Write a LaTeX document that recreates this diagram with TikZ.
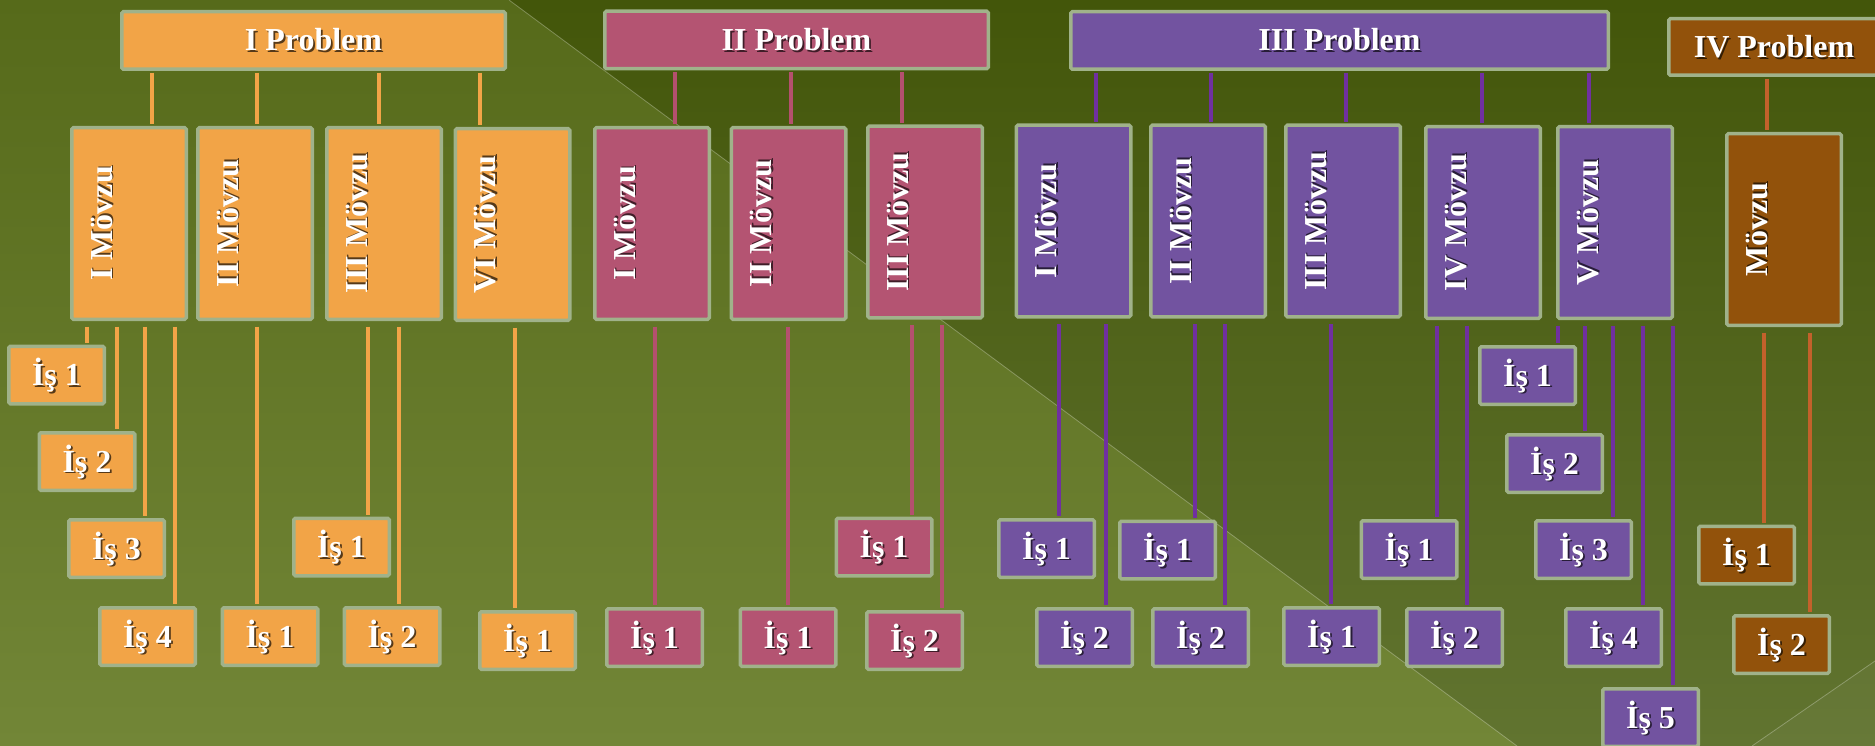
\documentclass[tikz,border=0pt]{standalone}
\usepackage{fontspec}
\setmainfont{Liberation Serif}
\definecolor{cOr}{HTML}{F2A447}
\definecolor{cPk}{HTML}{B45472}
\definecolor{cPu}{HTML}{7253A0}
\definecolor{cBr}{HTML}{92520B}
\definecolor{lOr}{HTML}{F2A447}
\definecolor{lPk}{HTML}{B4506E}
\definecolor{lPu}{HTML}{7030A0}
\definecolor{lBr}{HTML}{C3612B}
\definecolor{cBd}{HTML}{A0B28A}
\definecolor{bgLT}{HTML}{566A1A}
\definecolor{bgLB}{HTML}{728637}
\definecolor{bgRT}{HTML}{43560A}
\definecolor{bgRB}{HTML}{617430}
\colorlet{shc}{black}
\newcommand\shd[1]{\leavevmode\rlap{\kern1.8pt\raisebox{-1.8pt}{\textcolor{shc}{#1}}}#1}
\newcommand\cn[4]{\draw[#1] (perpendicular cs: horizontal line through={(#2.south)}, vertical line through={(#4,0)}) -- (perpendicular cs: horizontal line through={(#3.north)}, vertical line through={(#4,0)});}
\tikzset{
 bx/.style={draw=cBd, line width=3.5pt, rounded corners=1.5pt, inner sep=0pt, text=white,
   font=\fontsize{32}{37}\selectfont\bfseries, text height=21pt, text depth=0pt},
 fo/.style={bx, fill=cOr, execute at begin node={\colorlet{shc}{cOr!35!black}}},
 fp/.style={bx, fill=cPk, execute at begin node={\colorlet{shc}{cPk!35!black}}},
 fu/.style={bx, fill=cPu, execute at begin node={\colorlet{shc}{cPu!35!black}}},
 fb/.style={bx, fill=cBr, execute at begin node={\colorlet{shc}{cBr!35!black}}},
 isb/.style={minimum width=95.5pt, minimum height=57.5pt},
 mvb/.style={minimum width=114.5pt, minimum height=191.5pt},
 prb/.style={minimum height=57.5pt},
 vt/.style={rotate=90, anchor=base, inner sep=0pt, text=white,
   font=\fontsize{32}{37}\selectfont\bfseries, execute at begin node={\colorlet{shc}{#1!35!black}}},
 co/.style={draw=lOr, line width=3.5pt},
 cp/.style={draw=lPk, line width=3.5pt},
 cu/.style={draw=lPu, line width=3.5pt},
 cb/.style={draw=lBr, line width=3.5pt},
 tc/.style={shorten <=1.75pt, shorten >=1.75pt},
 bc/.style={shorten <=5.5pt, shorten >=1.75pt},
 dline/.style={draw=white, draw opacity=0.28, line width=0.8pt}
}
\begin{document}
\begin{tikzpicture}[x=1pt,y=-1pt]
\useasboundingbox (0,0) rectangle (1875,746);
\clip (0,0) rectangle (1875,746);
% background
\shade[top color=bgRT, bottom color=bgRB] (0,0) rectangle (1875,746);
\shade[top color=bgLT, bottom color=bgLB] (0,0) -- (509,0) -- (1517,746) -- (0,746) -- cycle;
\fill[white, opacity=0.04] (1752,746) -- (1875,661) -- (1875,746) -- cycle;
\path[dline] (509,0) -- (1517,746);
\path[dline] (1752,746) -- (1875,661);

% ---------- I Problem (orange)
\node[fo, prb, minimum width=383.5pt] (op) at (313.5,40.5) {\shd{I Problem}};
\node[fo, mvb] (om1) at (129,223.5) {};
\node[fo, mvb] (om2) at (255,223.5) {};
\node[fo, mvb] (om3) at (384,223.5) {};
\node[fo, mvb] (om4) at (512.5,224.5) {};
\node[vt=cOr] (om1t) at ([xshift=42pt]om1.west) {\shd{I Mövzu}};
\node[vt=cOr] (om2t) at ([xshift=42pt]om2.west) {\shd{II Mövzu}};
\node[vt=cOr] (om3t) at ([xshift=42pt]om3.west) {\shd{III Mövzu}};
\node[vt=cOr] (om4t) at ([xshift=42pt]om4.west) {\shd{VI Mövzu}};
\node[fo, isb] (oi1) at (56.5,375) {\shd{İş 1}};
\node[fo, isb] (oi2) at (87,461.5) {\shd{İş 2}};
\node[fo, isb] (oi3) at (116.5,548.5) {\shd{İş 3}};
\node[fo, isb] (oi4) at (147.5,636.5) {\shd{İş 4}};
\node[fo, isb] (o2i1) at (270,636.5) {\shd{İş 1}};
\node[fo, isb] (o3i1) at (341.5,547) {\shd{İş 1}};
\node[fo, isb] (o3i2) at (392,636.5) {\shd{İş 2}};
\node[fo, isb] (o4i1) at (527.5,640.5) {\shd{İş 1}};
\cn{co,tc}{op}{om1}{152}
\cn{co,tc}{op}{om2}{257}
\cn{co,tc}{op}{om3}{379}
\cn{co,tc}{op}{om4}{480}
\cn{co,bc}{om1}{oi1}{87}
\cn{co,bc}{om1}{oi2}{117}
\cn{co,bc}{om1}{oi3}{145}
\cn{co,bc}{om1}{oi4}{175}
\cn{co,bc}{om2}{o2i1}{257}
\cn{co,bc}{om3}{o3i1}{368}
\cn{co,bc}{om3}{o3i2}{399}
\cn{co,bc}{om4}{o4i1}{515}

% ---------- II Problem (pink)
\node[fp, prb, minimum width=383.5pt] (pp) at (796.5,40) {\shd{II Problem}};
\node[fp, mvb] (pm1) at (652,223.5) {};
\node[fp, mvb] (pm2) at (788.5,223.5) {};
\node[fp, mvb] (pm3) at (925,222) {};
\node[vt=cPk] (pm1t) at ([xshift=42pt]pm1.west) {\shd{I Mövzu}};
\node[vt=cPk] (pm2t) at ([xshift=42pt]pm2.west) {\shd{II Mövzu}};
\node[vt=cPk] (pm3t) at ([xshift=42pt]pm3.west) {\shd{III Mövzu}};
\node[fp, isb] (pi1) at (654.5,637.5) {\shd{İş 1}};
\node[fp, isb] (pi2) at (788,637.5) {\shd{İş 1}};
\node[fp, isb] (pi3) at (884,547) {\shd{İş 1}};
\node[fp, isb] (pi4) at (914.5,640.5) {\shd{İş 2}};
\cn{cp,tc}{pp}{pm1}{675}
\cn{cp,tc}{pp}{pm2}{791}
\cn{cp,tc}{pp}{pm3}{902}
\cn{cp,bc}{pm1}{pi1}{655}
\cn{cp,bc}{pm2}{pi2}{788}
\cn{cp,bc}{pm3}{pi3}{912}
\cn{cp,bc}{pm3}{pi4}{942}

% ---------- III Problem (purple)
\node[fu, prb, minimum width=537.5pt] (up) at (1339.5,40.5) {\shd{III Problem}};
\node[fu, mvb] (um1) at (1073.5,221) {};
\node[fu, mvb] (um2) at (1208,221) {};
\node[fu, mvb] (um3) at (1343,221) {};
\node[fu, mvb] (um4) at (1483,222.5) {};
\node[fu, mvb] (um5) at (1615,222.5) {};
\node[vt=cPu] (um1t) at ([xshift=42pt]um1.west) {\shd{I Mövzu}};
\node[vt=cPu] (um2t) at ([xshift=42pt]um2.west) {\shd{II Mövzu}};
\node[vt=cPu] (um3t) at ([xshift=42pt]um3.west) {\shd{III Mövzu}};
\node[vt=cPu] (um4t) at ([xshift=42pt]um4.west) {\shd{IV Mövzu}};
\node[vt=cPu] (um5t) at ([xshift=42pt]um5.west) {\shd{V Mövzu}};
\node[fu, isb] (ui1) at (1046.5,548.5) {\shd{İş 1}};
\node[fu, isb] (ui2) at (1084.5,637.5) {\shd{İş 2}};
\node[fu, isb] (ui3) at (1167.5,550) {\shd{İş 1}};
\node[fu, isb] (ui4) at (1200.5,637.5) {\shd{İş 2}};
\node[fu, isb] (ui5) at (1331.5,636.5) {\shd{İş 1}};
\node[fu, isb] (ui6) at (1409,549.5) {\shd{İş 1}};
\node[fu, isb] (ui7) at (1454.5,637.5) {\shd{İş 2}};
\node[fu, isb] (ui8) at (1527.5,375.5) {\shd{İş 1}};
\node[fu, isb] (ui9) at (1554.5,463.5) {\shd{İş 2}};
\node[fu, isb] (ui10) at (1583.5,549.5) {\shd{İş 3}};
\node[fu, isb] (ui11) at (1613.5,637.5) {\shd{İş 4}};
\node[fu, isb] (ui12) at (1650.5,717.5) {\shd{İş 5}};
\cn{cu,tc}{up}{um1}{1096}
\cn{cu,tc}{up}{um2}{1211}
\cn{cu,tc}{up}{um3}{1346}
\cn{cu,tc}{up}{um4}{1482}
\cn{cu,tc}{up}{um5}{1589}
\cn{cu,bc}{um1}{ui1}{1059}
\cn{cu,bc}{um1}{ui2}{1106}
\cn{cu,bc}{um2}{ui3}{1195}
\cn{cu,bc}{um2}{ui4}{1225}
\cn{cu,bc}{um3}{ui5}{1331}
\cn{cu,bc}{um4}{ui6}{1437}
\cn{cu,bc}{um4}{ui7}{1467}
\cn{cu,bc}{um5}{ui8}{1558}
\cn{cu,bc}{um5}{ui9}{1585}
\cn{cu,bc}{um5}{ui10}{1613}
\cn{cu,bc}{um5}{ui11}{1643}
\cn{cu,bc}{um5}{ui12}{1673}

% ---------- IV Problem (brown)
\node[fb, minimum height=56.5pt, minimum width=210.5pt] (bp) at (1774,47) {\shd{IV Problem}};
\node[fb, mvb] (bm) at (1784,229.5) {};
\node[vt=cBr] (bmt) at ([xshift=42pt]bm.west) {\shd{Mövzu}};
\node[fb, isb] (bi1) at (1746.5,555) {\shd{İş 1}};
\node[fb, isb] (bi2) at (1781.5,644.5) {\shd{İş 2}};
\cn{cb,tc}{bp}{bm}{1767}
\cn{cb,bc}{bm}{bi1}{1764}
\cn{cb,bc}{bm}{bi2}{1810}
\end{tikzpicture}
\end{document}
